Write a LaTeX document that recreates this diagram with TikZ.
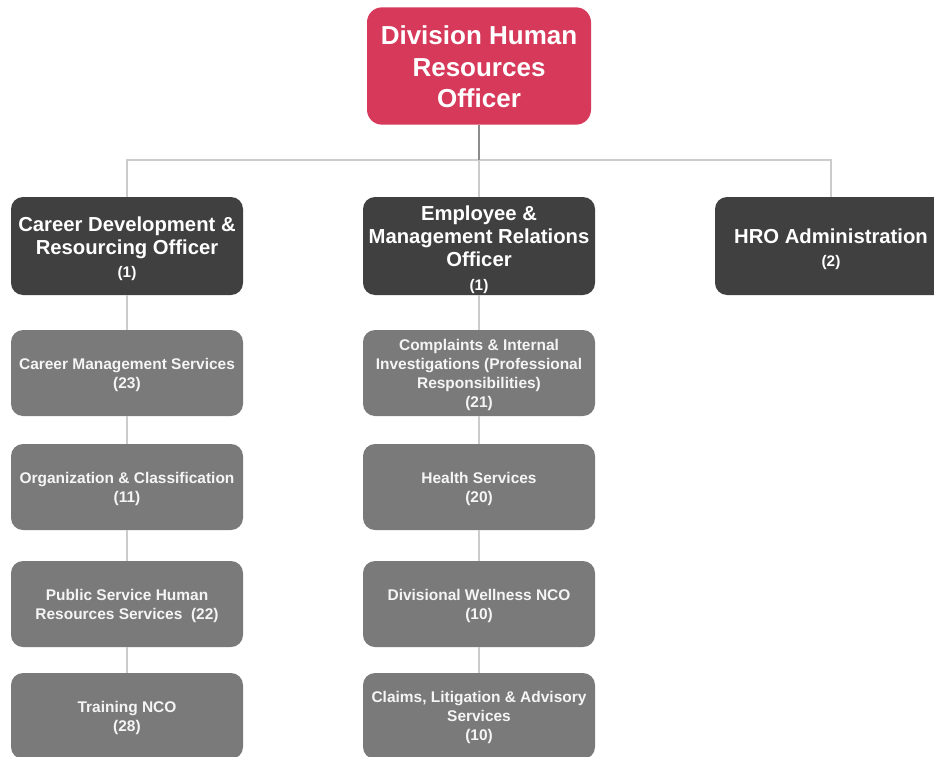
\documentclass[tikz,border=0pt]{standalone}
\usepackage{fontspec}
\setmainfont{Liberation Sans}
\definecolor{headred}{HTML}{D6395A}
\definecolor{officer}{HTML}{404040}
\definecolor{unit}{HTML}{7A7A7A}
\definecolor{linkgray}{HTML}{CCCCCC}
\definecolor{stemgray}{HTML}{8C8C8C}
\tikzset{
  headbox/.style={fill=headred, rounded corners=11.25pt, minimum width=168pt, minimum height=88pt,
    text=white, align=center, inner sep=0pt,
    font=\bfseries\fontsize{19.5}{23.5}\selectfont},
  officerbox/.style={fill=officer, rounded corners=9pt, minimum width=174pt, minimum height=73.5pt,
    text=white, align=center, inner sep=0pt,
    font=\bfseries\fontsize{15.2}{17.3}\selectfont},
  unitbox/.style={fill=unit, rounded corners=9pt, minimum width=174pt, minimum height=64.5pt,
    text=white!96!black, align=center, inner sep=0pt,
    font=\bfseries\fontsize{11.6}{14.3}\selectfont},
  conn/.style={draw=linkgray, line width=0.9pt},
  stem/.style={draw=stemgray, line width=0.9pt},
}
% text block set slightly below the centre of its box
\newcommand{\low}[2]{\raisebox{-#1}[\height][\depth]{\begin{tabular}{@{}c@{}}#2\end{tabular}}}
\newcommand{\cnt}[1]{{\fontsize{11.5}{14}\selectfont #1}}
\renewcommand{\arraystretch}{1}
\begin{document}
\begin{tikzpicture}[x=0.75pt, y=-0.75pt]
  \path[use as bounding box] (0,0) rectangle (934,756);
  \clip (0,0) rectangle (934,756);

  % head of division
  \node[headbox] (head) at (479,66) {\low{3pt}{Division Human\\Resources\\Officer}};

  % officers
  \node[officerbox] (cd)  at (127,246) {\low{3pt}{Career Development \&\\Resourcing Officer\\\cnt{(1)}}};
  \node[officerbox] (emr) at (479,246) {\low{3.6pt}{Employee \&\\Management Relations\\Officer\\\cnt{(1)}}};
  \node[officerbox] (hro) at (831,246) {\low{3pt}{HRO Administration\\\cnt{(2)}}};

  % career development units
  \node[unitbox] (cms) at (127,373) {\low{1.5pt}{Career Management Services\\(23)}};
  \node[unitbox] (oc)  at (127,487) {\low{1.5pt}{Organization \& Classification\\(11)}};
  \node[unitbox] (ps)  at (127,604) {\low{1.5pt}{Public Service Human\\Resources Services\ \ (22)}};
  \node[unitbox] (tr)  at (127,716) {\low{1.5pt}{Training NCO\\(28)}};

  % employee and management relations units
  \node[unitbox] (cii) at (479,373) {\low{1.8pt}{Complaints \& Internal\\Investigations (Professional\\Responsibilities)\\(21)}};
  \node[unitbox] (hs)  at (479,487) {\low{1.5pt}{Health Services\\(20)}};
  \node[unitbox] (dw)  at (479,604) {\low{1.5pt}{Divisional Wellness NCO\\(10)}};
  \node[unitbox] (cl)  at (479,716) {\low{1.5pt}{Claims, Litigation \& Advisory\\Services\\(10)}};

  % reporting lines
  \coordinate (bus) at (479,160);
  \draw[conn] (cd.north) -- (cd.north |- bus) -- (hro.north |- bus) -- (hro.north);
  \draw[conn] (emr.north) -- (bus);
  \draw[stem] (head.south) -- (bus);

  \draw[conn] (cd.south) -- (cms.north);
  \draw[conn] (cms.south) -- (oc.north);
  \draw[conn] (oc.south) -- (ps.north);
  \draw[conn] (ps.south) -- (tr.north);

  \draw[conn] (emr.south) -- (cii.north);
  \draw[conn] (cii.south) -- (hs.north);
  \draw[conn] (hs.south) -- (dw.north);
  \draw[conn] (dw.south) -- (cl.north);
\end{tikzpicture}
\end{document}
